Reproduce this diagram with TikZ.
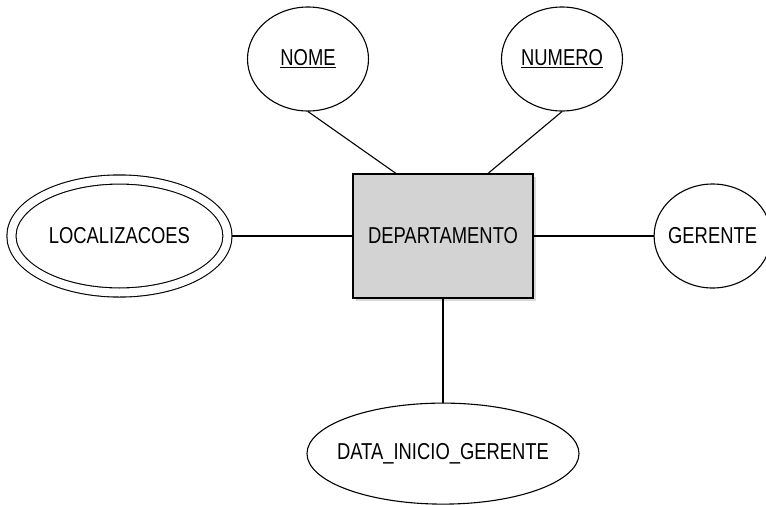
\documentclass[tikz,border=0pt]{standalone}
\usepackage{fontspec}
\setmainfont{Liberation Sans}[FakeStretch=0.8]
\usepackage{tikz}
\usetikzlibrary{shapes.geometric, positioning, shadows}

\definecolor{entfill}{RGB}{211,211,211}

\begin{document}
\begin{tikzpicture}[x=1pt, y=-1pt, line width=1.1pt,
    every node/.style={font=\fontsize{23}{27}\selectfont},
    entity/.style={rectangle, draw, fill=entfill, minimum width=180pt, minimum height=124pt,
        drop shadow={shadow xshift=2.5pt, shadow yshift=-2.5pt, opacity=0.3}},
    attr/.style={ellipse, draw, fill=white, inner sep=0pt, minimum width=121pt, minimum height=104pt},
    multi/.style={attr, double, double distance=8pt, outer sep=5pt, minimum width=216pt, minimum height=113pt}]

    \useasboundingbox (0,0) rectangle (766,504);

    \node (dept) [entity] at (443,236) {DEPARTAMENTO};
    \node (nome) [attr] at (308,59) {\underline{NOME}};
    \node (numero) [attr] at (562,59) {\underline{NUMERO}};
    \node (local) [multi, left=120pt of dept] {LOCALIZACOES};
    \node (gerente) [attr, inner xsep=-6pt, minimum width=117pt, right=120pt of dept] {GERENTE};
    \node (data) [attr, inner xsep=-14pt, minimum width=272pt, minimum height=101pt, below=104pt of dept] {DATA\_INICIO\_GERENTE};

    \draw (nome.south) -- ([xshift=-47pt]dept.north);
    \draw (numero.south) -- ([xshift=45pt]dept.north);
    \draw (local.east) -- (dept.west);
    \draw (dept.east) -- (gerente.west);
    \draw (dept.south) -- (data.north);

\end{tikzpicture}
\end{document}
